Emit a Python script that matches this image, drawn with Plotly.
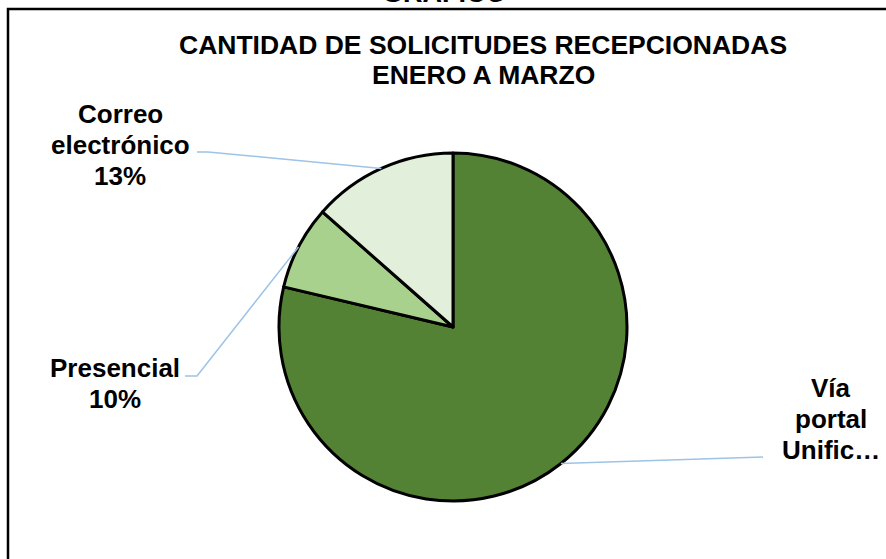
import math
import plotly.graph_objects as go

# ---- data ----
categories = ["Vía portal Unificado", "Presencial", "Correo electrónico"]
values = [78.7, 7.8, 13.5]
label_lines = [["Vía", "portal", "Unific…"], ["Presencial", "10%"], ["Correo", "electrónico", "13%"]]
colors = ["#548235", "#A9D18E", "#E2EFDA"]
title_lines = ["CANTIDAD DE SOLICITUDES RECEPCIONADAS", "ENERO A MARZO"]
top_cut_title = "GRÁFICO"

# ---- layout geometry (page pixels; body margin removed by post_script) ----
W, H = 886, 559
CX, CY, R = 453, 327, 174
FONT = "Liberation Sans, Arial, sans-serif"
LEADER = "#9DC3E6"


def px(x, y):
    return x / W, (H - y) / H


dx0, dy0 = px(CX - R, CY + R)
dx1, dy1 = px(CX + R, CY - R)
fig = go.Figure(go.Pie(
    labels=categories, values=values, sort=False, direction="clockwise", rotation=0,
    marker=dict(colors=colors, line=dict(color="black", width=3)),
    textinfo="none", hoverinfo="none", showlegend=False,
    domain=dict(x=[dx0, dx1], y=[dy0, dy1]),
))

# slice mid angles (clockwise from 12 o'clock)
total = sum(values)
anchors = []
cum = 0
for v in values:
    mid = (cum + v / 2) / total * 2 * math.pi
    anchors.append((CX + R * math.sin(mid), CY - R * math.cos(mid)))
    cum += v

# leader line paths: anchor -> elbow(s)
leader_paths = [
    [anchors[0], (763, 457)],
    [anchors[1], (197, 376), (185, 376)],
    [anchors[2], (208, 152), (197, 152)],
]
shapes = []
for pts in leader_paths:
    path = ""
    for i, (x, y) in enumerate(pts):
        xp, yp = px(x, y)
        path += ("M" if i == 0 else "L") + f"{xp},{yp} "
    shapes.append(dict(type="path", path=path, xref="paper", yref="paper",
                       line=dict(color=LEADER, width=1.5)))

# outer border (chart area)
bx0, by0 = px(8, 9)
shapes.append(dict(type="rect", xref="paper", yref="paper", x0=bx0, y0=-0.05, x1=1.05, y1=by0,
                   line=dict(color="black", width=2.5), fillcolor="rgba(0,0,0,0)"))

annotations = []


def add_text(text, x, y, size=26, yanchor="middle"):
    xp, yp = px(x, y)
    annotations.append(dict(text=text, x=xp, y=yp, xref="paper", yref="paper", showarrow=False,
                            xanchor="center", yanchor=yanchor,
                            font=dict(family=FONT, size=size, color="black", weight="bold")))


add_text(top_cut_title, 444, 10, size=27, yanchor="bottom")
for line, y in zip(title_lines, [45, 75]):
    add_text(line, 483, y, size=26.5)

label_pos = [(831, [388, 419, 450]), (115, [368, 399]), (120, [114, 145, 176])]
for lines, (x, ys) in zip(label_lines, label_pos):
    for line, y in zip(lines, ys):
        add_text(line, x, y, size=26)

fig.update_layout(
    width=W, height=H, margin=dict(l=0, r=0, t=0, b=0),
    paper_bgcolor="white", plot_bgcolor="white",
    shapes=shapes, annotations=annotations,
)
fig.write_html("out.html", config={"displayModeBar": False},
               post_script="document.body.style.margin='0';document.body.style.overflow='hidden';")
